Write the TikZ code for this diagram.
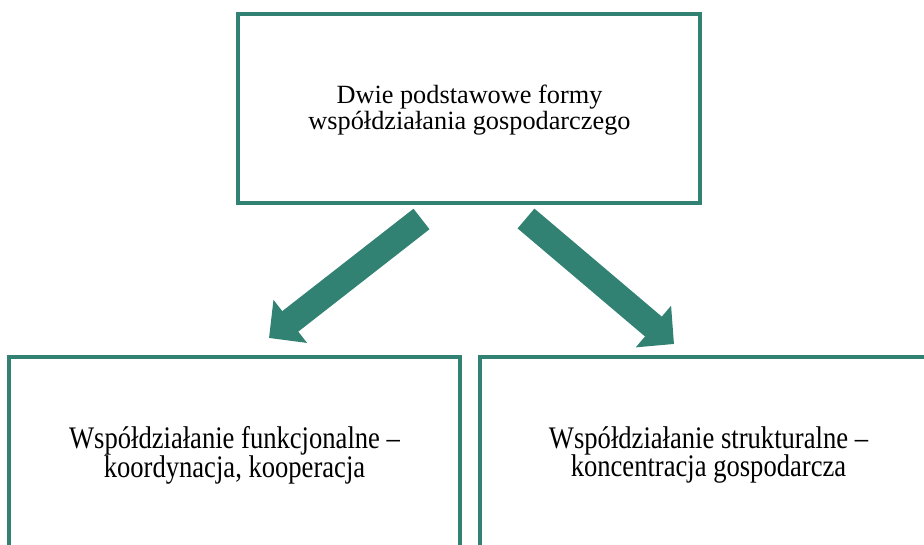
\documentclass[tikz,border=0pt]{standalone}
\usepackage{graphicx}
\usepackage{fontspec}
\setmainfont{Liberation Serif}
\usetikzlibrary{arrows.meta}
\definecolor{teal1}{RGB}{50,130,115}
\newcommand{\vstretch}[1]{\scalebox{1}[1.18]{#1}}
\begin{document}
\begin{tikzpicture}[x=1pt,y=-1pt,
  box/.style={draw=teal1,line width=4pt,fill=white,inner sep=0pt},
  toptxt/.style={align=center,inner sep=0pt,font=\fontsize{26.3}{26.5}\selectfont},
  bottxt/.style={align=center,inner sep=0pt,font=\fontsize{26.6}{28.7}\selectfont},
  blockarrow/.style={draw=teal1,line width=26pt,
    -{Triangle[length=27pt,width=53pt]}}]
\useasboundingbox (0,0) rectangle (924,544);
\node[box,minimum width=461.7pt,minimum height=189.3pt] (top) at (468.8,108.3) {};
\node[box,minimum width=450.4pt,minimum height=203pt] (left) at (234.5,458.5) {};
\node[box,minimum width=453.7pt,minimum height=203pt] (right) at (707.2,458.5) {};
\node[toptxt] (toptext) at (469.5,110) {Dwie podstawowe formy\\współdziałania gospodarczego};
\node[bottxt] (lefttext) at (234.5,455) {\vstretch{Współdziałanie funkcjonalne –}\\\vstretch{koordynacja, kooperacja}};
\node[bottxt] (righttext) at (708.5,455) {\vstretch{Współdziałanie strukturalne –}\\\vstretch{koncentracja gospodarcza}};
\coordinate (tailL) at (421.5,219);
\coordinate (tipL) at (269,338);
\coordinate (tailR) at (526,218.5);
\coordinate (tipR) at (674,344);
\draw[blockarrow] (tailL) -- (tipL);
\draw[blockarrow] (tailR) -- (tipR);
\end{tikzpicture}
\end{document}
